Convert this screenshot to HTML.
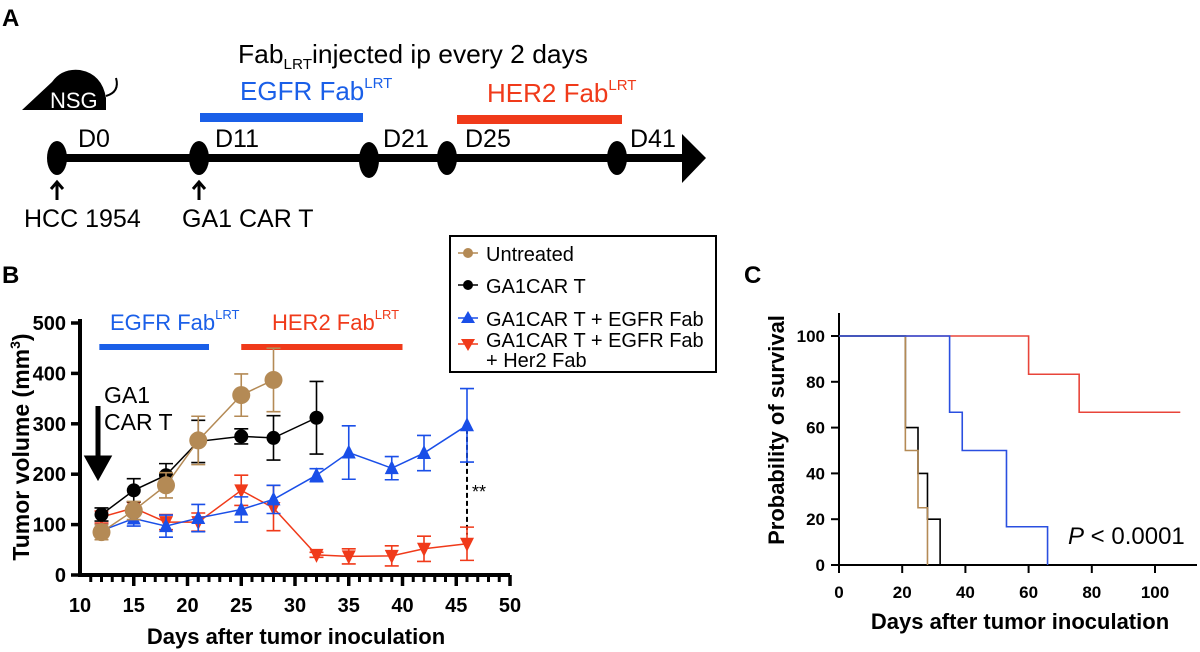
<!DOCTYPE html>
<html><head><meta charset="utf-8"><style>
body{margin:0;background:#fff;}
svg{display:block;font-family:"Liberation Sans",sans-serif;}
.n{font-family:"Liberation Sans Narrow","Liberation Sans",sans-serif;}
</style></head><body>
<svg id="fig" width="1200" height="652" viewBox="0 0 1200 652" xmlns="http://www.w3.org/2000/svg">
<!-- Panel A -->
<g>
<text x="2" y="26" font-size="24" font-weight="bold">A</text>
<text class="n" x="238" y="63" font-size="26" textLength="350" lengthAdjust="spacingAndGlyphs">Fab<tspan font-size="15" dy="6">LRT</tspan><tspan dy="-6">injected ip every 2 days</tspan></text>
<text class="n" x="240" y="100" font-size="26" fill="#1a5fe8">EGFR Fab<tspan font-size="15" dy="-12">LRT</tspan></text>
<text class="n" x="487" y="102" font-size="26" fill="#f03a1a">HER2 Fab<tspan font-size="15" dy="-12">LRT</tspan></text>
<rect x="200" y="113" width="163" height="9" fill="#1a5fe8"/>
<rect x="457" y="115" width="165" height="9" fill="#f03a1a"/>
<g>
<path d="M22 110 L52 82 Q62 68 80 70 Q102 74 106 98 L106 110 Z" fill="#000"/>
<path d="M106 96 Q120 92 116 78" stroke="#000" stroke-width="2" fill="none"/>
<text class="n" x="50" y="108" font-size="22" fill="#fff">NSG</text>
</g>
<rect x="55" y="154" width="630" height="8" fill="#000"/>
<polygon points="682,134 706,158 682,183" fill="#000"/>
<ellipse cx="57" cy="158" rx="10" ry="17" fill="#000"/>
<ellipse cx="199" cy="158" rx="10" ry="17" fill="#000"/>
<ellipse cx="369" cy="160" rx="10" ry="18" fill="#000"/>
<ellipse cx="447" cy="158" rx="10" ry="17" fill="#000"/>
<ellipse cx="617" cy="158" rx="10" ry="17" fill="#000"/>
<g class="n" font-size="25">
<text x="78" y="147">D0</text>
<text x="215" y="147">D11</text>
<text x="383" y="147">D21</text>
<text x="465" y="147">D25</text>
<text x="630" y="147">D41</text>
<text x="24" y="227">HCC 1954</text>
<text x="182" y="227">GA1 CAR T</text>
</g>
<path d="M57 200 V182 M51 189 L57 182 L63 189" stroke="#000" stroke-width="3" fill="none"/>
<path d="M199 200 V182 M193 189 L199 182 L205 189" stroke="#000" stroke-width="3" fill="none"/>
</g>
<!-- Panel B -->
<g>
<text x="2" y="283" font-size="24" font-weight="bold">B</text>
<g id="bg"></g>
</g>
<!-- Panel C -->
<g>
<text x="744" y="283" font-size="24" font-weight="bold">C</text>
<g id="cg"></g>
</g>
</svg>
<script>
// Panel B data
const bDaysU=[12,15,18,21,25,28];
const bValsU=[85,128,178,267,357,387];
const bErrU=[15,18,25,48,42,63];
const bDaysG=[12,15,18,21,25,28,32];
const bValsG=[120,168,198,265,275,272,312];
const bErrG=[13,23,23,42,15,44,72];
const bDaysE=[12,15,18,21,25,28,32,35,39,42,46];
const bValsE=[88,112,97,113,130,150,198,243,212,242,297];
const bErrE=[12,15,22,27,25,28,13,53,23,35,73];
const bDaysH=[12,15,18,21,25,28,32,35,39,42,46];
const bValsH=[115,133,105,105,168,133,40,37,38,52,62];
const bErrH=[12,12,15,18,30,45,5,15,20,25,33];
const bXTicks=[10,15,20,25,30,35,40,45,50];
const bYTicks=[0,100,200,300,400,500];
// Panel C data
const cTimesU=[0,21,25,28];
const cSurvU=[100,50,25,0];
const cTimesG=[0,21,25,28,32];
const cSurvG=[100,60,40,20,0];
const cTimesE=[0,35,39,53,66];
const cSurvE=[100,66.7,50,16.7,0];
const cTimesH=[0,60,76];
const cSurvH=[100,83.3,66.7];
const cEndH=108;
const cXTicks=[0,20,40,60,80,100];
const cYTicks=[0,20,40,60,80,100];

const NS='http://www.w3.org/2000/svg';
function mk(p,tag,a){const e=document.createElementNS(NS,tag);for(const k in a)e.setAttribute(k,a[k]);p.appendChild(e);return e;}
const bx=d=>80+(d-10)*10.75, by=v=>575-v*0.504;
const bg=document.getElementById('bg');
let ax=mk(bg,'path',{d:`M${bx(10)} ${by(500)-4} V${by(0)} H${bx(50)}`,stroke:'#000','stroke-width':4,fill:'none'});


for(let d=11;d<=50;d++){const big=d%5===0;let t=mk(bg,'line',{x1:bx(d),x2:bx(d),y1:by(0),y2:by(0)+(big?11:7),stroke:'#000','stroke-width':big?3.5:3});}
bXTicks.forEach(d=>{let t=mk(bg,'text',{x:bx(d),y:612,'font-size':20,'font-weight':'bold','text-anchor':'middle'});t.textContent=d;});
bYTicks.forEach(v=>{let l=mk(bg,'line',{x1:bx(10)-9,x2:bx(10),y1:by(v),y2:by(v),stroke:'#000','stroke-width':3.5});
let t=mk(bg,'text',{x:66,y:by(v)+7,'font-size':20,'font-weight':'bold','text-anchor':'end'});t.textContent=v;});
let xt=mk(bg,'text',{x:296,y:644,'font-size':22,'font-weight':'bold','text-anchor':'middle'});xt.textContent='Days after tumor inoculation';


let yt=mk(bg,'text',{x:0,y:0,'font-size':23,'font-weight':'bold','text-anchor':'middle',transform:'translate(29,447) rotate(-90)'});
yt.innerHTML='Tumor volume (mm<tspan font-size="14" dy="-9">3</tspan><tspan dy="9">)</tspan>';


let a1=mk(bg,'text',{x:110,y:330,'font-size':22,fill:'#1a5fe8','class':'n'});a1.innerHTML='EGFR Fab<tspan font-size="13" dy="-11">LRT</tspan>';
let a2=mk(bg,'text',{x:272,y:330,'font-size':22,fill:'#f03a1a','class':'n'});a2.innerHTML='HER2 Fab<tspan font-size="13" dy="-11">LRT</tspan>';
let r1=mk(bg,'rect',{x:bx(11.8),y:344,width:bx(22)-bx(11.8),height:6,fill:'#1a5fe8'});
let r2=mk(bg,'rect',{x:bx(25),y:344,width:bx(40)-bx(25),height:6,fill:'#f03a1a'});
let g1=mk(bg,'text',{x:104,y:403,'font-size':23,'class':'n'});g1.innerHTML='GA1<tspan x="104" dy="27">CAR T</tspan>';
let ar=mk(bg,'path',{d:'M98 406 V470 M88 458 L98 476 L108 458 Z',stroke:'#000','stroke-width':5,fill:'#000'});
let sig=mk(bg,'line',{x1:bx(46),x2:bx(46),y1:by(290),y2:by(80),stroke:'#000','stroke-width':2,'stroke-dasharray':'5,3'});
let st=mk(bg,'text',{x:472,y:498,'font-size':18});st.textContent='**';
function series(days,vals,err,col,shape,name){
  const g=mk(bg,'g',{});
  days.forEach((d,i)=>{const x=bx(d);let e=mk(g,'path',{d:`M${x} ${by(vals[i]-err[i])} V${by(vals[i]+err[i])} M${x-7} ${by(vals[i]+err[i])} H${x+7} M${x-7} ${by(vals[i]-err[i])} H${x+7}`,stroke:col,'stroke-width':1.6,fill:'none'});});
  let l=mk(g,'polyline',{points:days.map((d,i)=>bx(d)+','+by(vals[i])).join(' '),stroke:col,'stroke-width':1.5,fill:'none'});
  days.forEach((d,i)=>{const x=bx(d),y=by(vals[i]);let m;
    if(shape==='c')m=mk(g,'circle',{cx:x,cy:y,r:col==='#b48a55'?9:7,fill:col});
    else if(shape==='u')m=mk(g,'polygon',{points:`${x-7},${y+6} ${x+7},${y+6} ${x},${y-8}`,fill:col});
    else m=mk(g,'polygon',{points:`${x-7},${y-6} ${x+7},${y-6} ${x},${y+8}`,fill:col});
    });
}
series(bDaysH,bValsH,bErrH,'#f03a1a','d','series-her2');
series(bDaysE,bValsE,bErrE,'#1a4fe8','u','series-egfr');
series(bDaysG,bValsG,bErrG,'#000','c','series-ga1');
series(bDaysU,bValsU,bErrU,'#b48a55','c','series-untreated');
const lg=mk(bg,'g',{});
mk(lg,'rect',{x:450,y:236,width:266,height:136,fill:'#fff',stroke:'#000','stroke-width':2});
const le=[['Untreated','#b48a55','c',253],['GA1CAR T','#000','c',285],['GA1CAR T + EGFR Fab','#1a4fe8','u',318],['GA1CAR T + EGFR Fab','#f03a1a','d',344]];
le.forEach(([t,c,s,y])=>{const e=mk(lg,'g',{});
 mk(e,'line',{x1:458,x2:478,y1:y,y2:y,stroke:c,'stroke-width':1.5});
 if(s==='c')mk(e,'circle',{cx:468,cy:y,r:5,fill:c});else if(s==='u')mk(e,'polygon',{points:`461,${y+5} 475,${y+5} 468,${y-7}`,fill:c});else mk(e,'polygon',{points:`461,${y-5} 475,${y-5} 468,${y+7}`,fill:c});
 const tx=mk(e,'text',{x:486,y:(y===344?y+3:y+8),'font-size':20,'class':'n'});tx.textContent=t;});
const t5=mk(lg,'text',{x:486,y:367,'font-size':20,'class':'n'});t5.textContent='+ Her2 Fab';
const cx=d=>839+d*3.16, cy=v=>565-v*2.29;
const cg=document.getElementById('cg');
let cax=mk(cg,'path',{d:`M${cx(0)} 313 V${cy(0)} H1197`,stroke:'#000','stroke-width':2,fill:'none'});
cXTicks.forEach(d=>{let l=mk(cg,'line',{x1:cx(d),x2:cx(d),y1:cy(0),y2:cy(0)+8,stroke:'#000','stroke-width':2});
let t=mk(cg,'text',{x:cx(d),y:598,'font-size':17,'font-weight':'bold','text-anchor':'middle'});t.textContent=d;});
cYTicks.forEach(v=>{let l=mk(cg,'line',{x1:cx(0)-8,x2:cx(0),y1:cy(v),y2:cy(v),stroke:'#000','stroke-width':2});
let t=mk(cg,'text',{x:825,y:cy(v)+6,'font-size':17,'font-weight':'bold','text-anchor':'end'});t.textContent=v;});
let cxt=mk(cg,'text',{x:1020,y:629,'font-size':22,'font-weight':'bold','text-anchor':'middle'});cxt.textContent='Days after tumor inoculation';
let cyt=mk(cg,'text',{x:0,y:0,'font-size':22,'font-weight':'bold','text-anchor':'middle',transform:'translate(784,430) rotate(-90)'});cyt.textContent='Probability of  survival';
function km(times,surv,end,col,name){let d=`M${cx(times[0])} ${cy(surv[0])}`;for(let i=1;i<times.length;i++){d+=` H${cx(times[i])} V${cy(surv[i])}`;}if(end!=null)d+=` H${cx(end)}`;
 let p=mk(cg,'path',{d,stroke:col,'stroke-width':1.6,fill:'none'});}
km(cTimesH,cSurvH,cEndH,'#e8453a','km-her2');
km(cTimesG,cSurvG,null,'#000','km-ga1');
km(cTimesU,cSurvU,null,'#b48a55','km-untreated');
km(cTimesE,cSurvE,null,'#2a4fe0','km-egfr');
let pv=mk(cg,'text',{x:1068,y:544,'font-size':24,'class':'n'});pv.innerHTML='<tspan font-style="italic">P</tspan> &lt; 0.0001';
</script>
</body></html>
